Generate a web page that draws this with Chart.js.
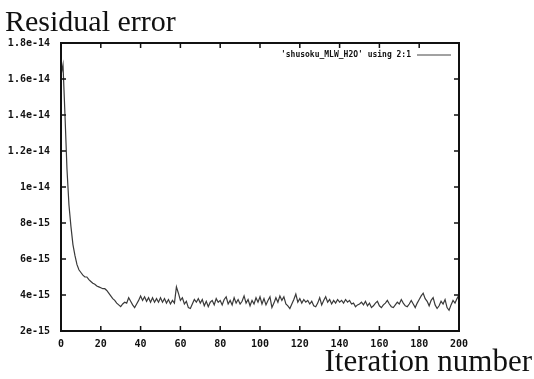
<!DOCTYPE html>
<html>
<head>
<meta charset="utf-8">
<script src="https://cdn.jsdelivr.net/npm/chart.js@4"></script>
<style>
  html, body { margin: 0; padding: 0; background: #fff; }
  #wrap { width: 534px; height: 379px; }
</style>
</head>
<body>
<div id="wrap"><canvas id="chart" width="534" height="379"></canvas></div>
<script>
// residual values in units of 1e-15, iterations 0..200
const residual = [
  16.2, 16.8, 14.0, 11.0, 9.0, 7.8, 6.8, 6.2, 5.7, 5.4,
  5.25, 5.1, 5.0, 5.0, 4.85, 4.75, 4.65, 4.6, 4.5, 4.45,
  4.4, 4.35, 4.35, 4.25, 4.1, 3.95, 3.8, 3.7, 3.55, 3.45,
  3.35, 3.5, 3.6, 3.55, 3.85, 3.65, 3.45, 3.3, 3.5, 3.7,
  3.95, 3.7, 3.9, 3.65, 3.85, 3.6, 3.85, 3.6, 3.8, 3.6,
  3.85, 3.6, 3.8, 3.55, 3.75, 3.5, 3.7, 3.55, 4.45, 4.1,
  3.7, 3.85, 3.5, 3.65, 3.3, 3.25, 3.5, 3.75, 3.6, 3.8,
  3.55, 3.75, 3.4, 3.65, 3.35, 3.6, 3.7, 3.45, 3.8, 3.6,
  3.7, 3.45, 3.75, 3.9, 3.5, 3.7, 3.45, 3.85, 3.55, 3.75,
  3.5, 3.65, 3.95, 3.55, 3.75, 3.4, 3.7, 3.5, 3.85, 3.6,
  3.9, 3.5, 3.8, 3.45, 3.7, 3.9, 3.3, 3.55, 3.85, 3.6,
  3.95, 3.7, 3.9, 3.5, 3.4, 3.25, 3.5, 3.75, 4.05, 3.6,
  3.8, 3.55, 3.75, 3.6, 3.7, 3.5, 3.65, 3.4, 3.35, 3.55,
  3.85, 3.45, 3.7, 3.9, 3.6, 3.75, 3.5, 3.7, 3.55, 3.75,
  3.6, 3.7, 3.55, 3.75, 3.6, 3.7, 3.5, 3.55, 3.35, 3.45,
  3.5, 3.6, 3.45, 3.65, 3.4, 3.55, 3.3, 3.4, 3.55, 3.65,
  3.4, 3.3, 3.45, 3.55, 3.7, 3.5, 3.35, 3.3, 3.45, 3.6,
  3.5, 3.75, 3.55, 3.4, 3.35, 3.5, 3.7, 3.5, 3.3, 3.55,
  3.75, 3.95, 4.1, 3.8, 3.65, 3.4, 3.7, 3.85, 3.45, 3.25,
  3.4, 3.65, 3.5, 3.75, 3.3, 3.15, 3.45, 3.7, 3.55, 3.8,
  4.0
];
const iterations = residual.map((v, i) => i);

const yTickValues = [2, 4, 6, 8, 10, 12, 14, 16, 18];
const yTickLabels = ["2e-15", "4e-15", "6e-15", "8e-15", "1e-14", "1.2e-14", "1.4e-14", "1.6e-14", "1.8e-14"];
const xTickValues = [0, 20, 40, 60, 80, 100, 120, 140, 160, 180, 200];

const seriesLabel = "'shusoku_MLW_H2O' using 2:1";
const yTitle = "Residual error";
const xTitle = "Iteration number";

const tickFont = { family: "DejaVu Sans Mono", size: 10, weight: "bold" };

// gnuplot style frame, inward ticks on all sides, key and titles
const framePlugin = {
  id: "frame",
  afterDatasetsDraw(chart) {
    const { ctx, chartArea: a, scales } = chart;
    ctx.save();
    ctx.strokeStyle = "#111";
    ctx.lineWidth = 2;
    ctx.strokeRect(a.left, a.top, a.right - a.left, a.bottom - a.top);

    ctx.lineWidth = 1.5;
    ctx.beginPath();
    xTickValues.forEach(v => {
      const x = scales.x.getPixelForValue(v);
      ctx.moveTo(x, a.bottom); ctx.lineTo(x, a.bottom - 5);
      ctx.moveTo(x, a.top); ctx.lineTo(x, a.top + 5);
    });
    yTickValues.forEach(v => {
      const y = scales.y.getPixelForValue(v);
      ctx.moveTo(a.left, y); ctx.lineTo(a.left + 5, y);
      ctx.moveTo(a.right, y); ctx.lineTo(a.right - 5, y);
    });
    ctx.stroke();

    // key
    ctx.font = "bold 8px 'DejaVu Sans Mono'";
    ctx.fillStyle = "#111";
    ctx.textAlign = "right";
    ctx.textBaseline = "middle";
    const ky = a.top + 12;
    ctx.fillText(seriesLabel, a.right - 48, ky);
    ctx.strokeStyle = "#444";
    ctx.lineWidth = 1;
    ctx.beginPath();
    ctx.moveTo(a.right - 42, ky);
    ctx.lineTo(a.right - 8, ky);
    ctx.stroke();

    // titles
    ctx.font = "30px 'Liberation Serif'";
    ctx.textBaseline = "alphabetic";
    ctx.textAlign = "left";
    ctx.fillText(yTitle, 5, 31);
    ctx.font = "31px 'Liberation Serif'";
    ctx.textAlign = "right";
    ctx.fillText(xTitle, 532, 371);
    ctx.restore();
  }
};

new Chart(document.getElementById("chart"), {
  type: "line",
  data: {
    labels: iterations,
    datasets: [{
      label: seriesLabel,
      data: residual,
      borderColor: "#3a3a3a",
      borderWidth: 1.2,
      pointRadius: 0,
      tension: 0,
      fill: false
    }]
  },
  options: {
    responsive: false,
    animation: false,
    layout: { padding: { top: 43, right: 75, left: 0, bottom: 0 } },
    plugins: {
      legend: { display: false },
      tooltip: { enabled: false }
    },
    scales: {
      x: {
        type: "linear",
        min: 0,
        max: 200,
        afterFit: s => { s.height = 48; },
        afterBuildTicks: s => { s.ticks = xTickValues.map(v => ({ value: v })); },
        grid: { display: false, drawTicks: false },
        border: { display: false },
        ticks: { color: "#111", font: tickFont, padding: 7, maxRotation: 0, autoSkip: false }
      },
      y: {
        min: 2,
        max: 18,
        afterFit: s => { s.width = 61; },
        afterBuildTicks: s => { s.ticks = yTickValues.map(v => ({ value: v })); },
        grid: { display: false, drawTicks: false },
        border: { display: false },
        ticks: {
          color: "#111",
          font: tickFont,
          padding: 11,
          autoSkip: false,
          callback: (v) => yTickLabels[yTickValues.indexOf(v)]
        }
      }
    }
  },
  plugins: [framePlugin]
});
</script>
</body>
</html>
